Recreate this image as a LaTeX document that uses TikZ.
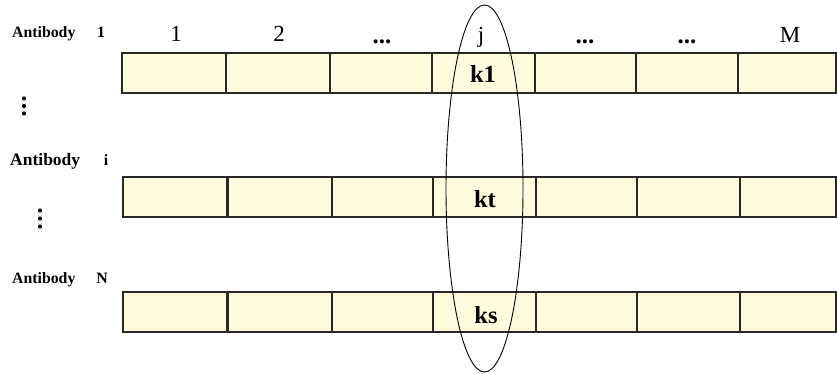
\documentclass[tikz,border=0pt]{standalone}
\usepackage{fontspec}
\setmainfont{Liberation Serif}
\usetikzlibrary{shapes.geometric}
\definecolor{cellfill}{RGB}{255,252,222}
\definecolor{cellline}{RGB}{40,40,40}
\tikzset{
  cell/.style={draw=cellline, line width=1.1pt, fill=cellfill, rectangle,
    anchor=north west, inner sep=0pt, outer sep=0pt, minimum height=40pt},
  rowlabel/.style={anchor=base west, inner sep=0pt,
    font=\fontsize{15.8}{18}\selectfont\bfseries},
  rowindex/.style={anchor=base, inner sep=0pt,
    font=\fontsize{15.8}{18}\selectfont\bfseries},
  colnum/.style={anchor=base, inner sep=0pt, font=\fontsize{23}{26}\selectfont},
  coldots/.style={anchor=base, inner sep=0pt, font=\fontsize{25}{28}\selectfont\bfseries},
  gene/.style={anchor=base, inner sep=0pt, font=\fontsize{24.5}{28}\selectfont\bfseries},
  vdot/.style={fill=black, circle, inner sep=0pt, minimum size=4.2pt},
  ring/.style={draw=black, line width=0.9pt, ellipse, inner sep=0pt,
    minimum width=77pt, minimum height=367pt}
}
\begin{document}
\begin{tikzpicture}[x=1pt,y=-1pt]
\useasboundingbox (0,0) rectangle (837,374);

% row labels
\node[rowlabel] (lab1) at (12,38) {Antibody};
\node[rowindex] (idx1) at (101,38) {1};
\node[rowlabel, font=\fontsize{17.5}{20}\selectfont\bfseries] (labi) at (10,165) {Antibody};
\node[rowindex] (idxi) at (106,165) {i};
\node[rowlabel] (labN) at (12,283) {Antibody};
\node[rowindex] (idxN) at (102,283) {N};

% vertical ellipses between the rows
\foreach \y [count=\n] in {98.5,106,113.5} \node[vdot] (va\n) at (24,\y) {};
\foreach \y [count=\n] in {210.5,218.5,226.5} \node[vdot] (vb\n) at (40,\y) {};

% column headings
\node[colnum] (c1) at (176,42) {1};
\node[colnum] (c2) at (279,42) {2};
\node[coldots] (c3) at (382,44) {...};
\node[colnum] (cj) at (481,43) {j};
\node[coldots] (c5) at (585,44) {...};
\node[coldots] (c6) at (687,44) {...};
\node[colnum] (cM) at (790,43) {M};

% antibody 1
\foreach \a/\b [count=\n] in {122/226,226/330,330/432,432/535,535/636,636/738,738/836}
  \node[cell, minimum width={\b-\a}] (a\n) at (\a,53) {};

% antibody i
\foreach \a/\b [count=\n] in {123/227,228/332,332/433,433/536,536/637,637/740,740/836}
  \node[cell, minimum width={\b-\a}] (b\n) at (\a,177) {};

% antibody N
\foreach \a/\b [count=\n] in {123/227,228/332,332/433,433/536,536/637,637/740,740/836}
  \node[cell, minimum width={\b-\a}] (d\n) at (\a,292) {};

% genes in column j
\node[gene] (k1) at (483,83) {k1};
\node[gene] (kt) at (485,207) {kt};
\node[gene] (ks) at (486,323) {ks};

% column j across all antibodies
\node[ring] (colj) at (484.5,188.5) {};
\end{tikzpicture}
\end{document}
